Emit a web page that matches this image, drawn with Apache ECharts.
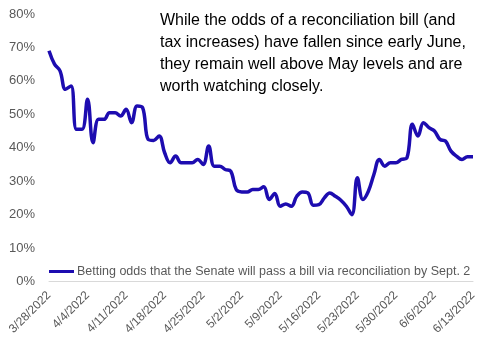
<!DOCTYPE html>
<html>
<head>
<meta charset="utf-8">
<script src="https://cdn.jsdelivr.net/npm/echarts@6/dist/echarts.min.js"></script>
<style>
html,body{margin:0;padding:0;background:#fff;}
#chart{width:485px;height:356px;}
</style>
</head>
<body>
<div id="chart"></div>
<script>
const dates = [
"3/28/2022","3/29/2022","3/30/2022","3/31/2022",
"4/1/2022","4/2/2022","4/3/2022","4/4/2022","4/5/2022","4/6/2022","4/7/2022","4/8/2022","4/9/2022","4/10/2022",
"4/11/2022","4/12/2022","4/13/2022","4/14/2022","4/15/2022","4/16/2022","4/17/2022","4/18/2022","4/19/2022","4/20/2022",
"4/21/2022","4/22/2022","4/23/2022","4/24/2022","4/25/2022","4/26/2022","4/27/2022","4/28/2022","4/29/2022","4/30/2022",
"5/1/2022","5/2/2022","5/3/2022","5/4/2022","5/5/2022","5/6/2022","5/7/2022","5/8/2022","5/9/2022","5/10/2022",
"5/11/2022","5/12/2022","5/13/2022","5/14/2022","5/15/2022","5/16/2022","5/17/2022","5/18/2022","5/19/2022","5/20/2022",
"5/21/2022","5/22/2022","5/23/2022","5/24/2022","5/25/2022","5/26/2022","5/27/2022","5/28/2022","5/29/2022","5/30/2022",
"5/31/2022","6/1/2022","6/2/2022","6/3/2022","6/4/2022","6/5/2022","6/6/2022","6/7/2022","6/8/2022","6/9/2022",
"6/10/2022","6/11/2022","6/12/2022","6/13/2022"
];
const odds = [
69, 65, 63, 57.5, 58.5, 45.5, 45.5, 54.5, 41.5, 48.5,
48.5, 50.5, 50.5, 49.5, 51.5, 47.5, 52.5, 52, 42.5, 42.2,
43.5, 38.5, 35.5, 37.5, 35.5, 35.5, 35.5, 36.5, 35, 40.5,
34.5, 34.5, 33.5, 33, 27.5, 26.8, 26.8, 27.5, 27.5, 28.3,
24.5, 26.3, 22.5, 23.2, 22.5, 25.5, 26.8, 26.5, 22.8, 23,
25, 26.5, 25.5, 24.3, 22.5, 20, 31, 24.5, 27, 32,
36.5, 34.5, 35.5, 35.5, 36.5, 37, 47, 43.5, 47.5, 46,
45, 42.5, 42, 39, 37.5, 36.5, 37.3, 37.3
];
const seriesName = "Betting odds that the Senate will pass a bill via reconciliation by Sept. 2";
const yTicks = [0, 10, 20, 30, 40, 50, 60, 70, 80];
const note = "While the odds of a reconciliation bill (and\ntax increases) have fallen since early June,\nthey remain well above May levels and are\nworth watching closely.";

const FONT = '"Liberation Sans", Arial, sans-serif';
const chart = echarts.init(document.getElementById('chart'), null, {renderer: 'canvas'});
chart.setOption({
  animation: false,
  backgroundColor: '#fff',
  grid: {left: 49, right: 12, top: 14, bottom: 74.5, containLabel: false},
  xAxis: {
    type: 'category',
    data: dates,
    boundaryGap: false,
    axisLine: {show: true, lineStyle: {color: '#d9d9d9', width: 1}},
    axisTick: {show: false},
    axisLabel: {
      interval: 6, rotate: 45, color: '#595959', fontSize: 12, fontFamily: FONT, margin: 12
    },
    splitLine: {show: false}
  },
  yAxis: {
    type: 'value',
    min: yTicks[0], max: yTicks[yTicks.length - 1], interval: 10,
    axisLine: {show: false},
    axisTick: {show: false},
    splitLine: {show: false},
    axisLabel: {formatter: '{value}%', color: '#595959', fontSize: 13, fontFamily: FONT, margin: 14}
  },
  legend: {
    show: true,
    left: 44, top: 260,
    icon: 'rect', itemWidth: 25, itemHeight: 3,
    textStyle: {color: '#595959', fontSize: 12.5, fontFamily: FONT, padding: [0, 0, 0, -2]},
    data: [seriesName]
  },
  series: [{
    name: seriesName,
    type: 'line',
    data: odds,
    smooth: 0.4,
    symbol: 'none',
    lineStyle: {color: '#1d0cb0', width: 3.5},
    itemStyle: {color: '#1d0cb0'}
  }],
  graphic: [{
    type: 'text',
    left: 160, top: 10,
    style: {text: note, fill: '#000', font: '16px ' + FONT, lineHeight: 22}
  }]
});
</script>
</body>
</html>
